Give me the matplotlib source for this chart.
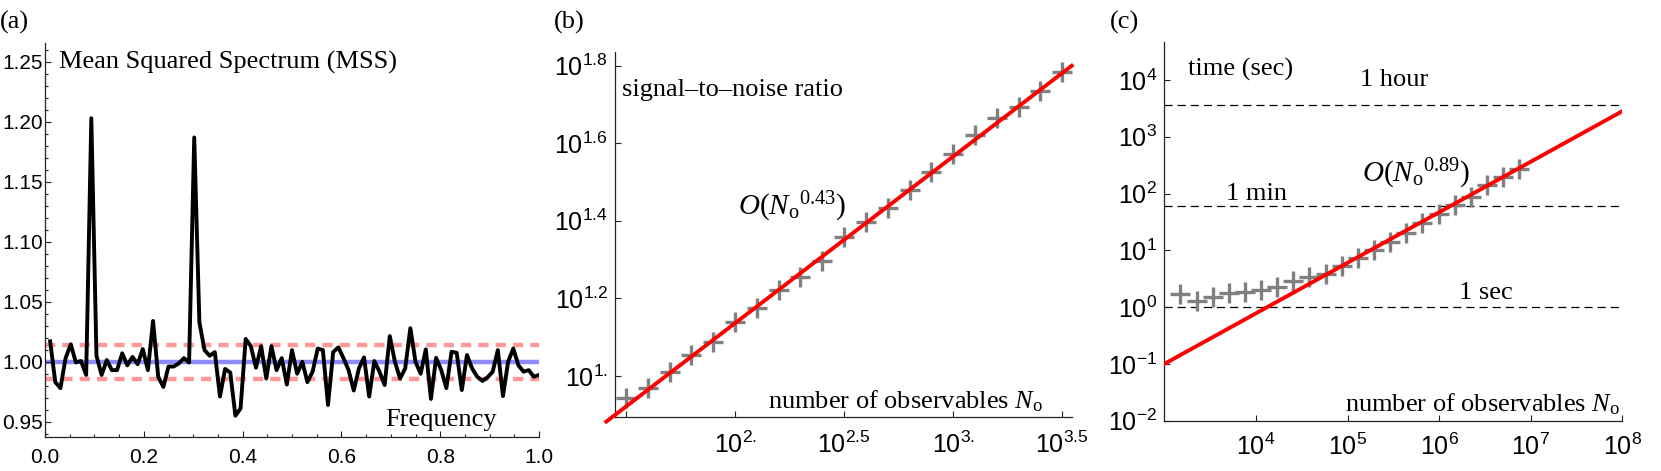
import numpy as np
import matplotlib
matplotlib.use("Agg")
import matplotlib.pyplot as plt
from matplotlib.ticker import (FixedLocator, FixedFormatter, MultipleLocator,
                               FormatStrFormatter, NullLocator)

plt.rcParams['font.family'] = ['Liberation Sans', 'DejaVu Sans']
plt.rcParams['mathtext.fontset'] = 'custom'
plt.rcParams['mathtext.rm'] = 'Liberation Serif'
plt.rcParams['mathtext.it'] = 'Liberation Serif:italic'
plt.rcParams['mathtext.bf'] = 'Liberation Serif:bold'

# ---------------- data ----------------
# (a) mean squared spectrum
mss_freq = np.linspace(1 / 96, 1.0, 96)
mss_values = [1.017, 0.983, 0.978, 1.003, 1.0145, 0.9995, 1.0006, 0.989, 1.203, 1.005,
              0.989, 1.0014, 0.993, 0.993, 1.007, 0.997, 1.004, 0.998, 1.0106, 0.993,
              1.034, 0.9875, 0.979, 0.996, 0.996, 0.9986, 1.003, 0.9994, 1.187, 1.033,
              1.0097, 1.005, 1.008, 0.971, 0.994, 0.991, 0.955, 0.961, 1.019, 1.013,
              0.995, 1.013, 0.986, 1.013, 0.993, 1.003, 0.981, 1.0097, 0.990, 1.000,
              0.983, 0.9917, 1.011, 1.0097, 0.964, 1.008, 1.012, 1.003, 0.993, 0.976,
              0.9944, 1.0036, 0.971, 1.0006, 0.9917, 0.9806, 1.0214, 1.0, 0.986, 0.9945,
              1.028, 1.0, 0.990, 1.0103, 0.969, 1.0033, 0.993, 0.978, 1.0083, 1.0075,
              0.9764, 1.0056, 0.9944, 0.9875, 0.984, 0.987, 0.9917, 1.0097, 0.9714, 1.0,
              1.011, 0.997, 0.9917, 0.993, 0.9875, 0.989]
mss_mean = 1.0
mss_band = [1.014, 0.986]

# (b) signal-to-noise ratio vs number of observables
snr_n = [31.6, 39.8, 50.1, 63.1, 79.4, 100.0, 125.9, 158.5, 199.5, 251.2, 316.2,
         398.1, 501.2, 631.0, 794.3, 1000.0, 1258.9, 1584.9, 1995.3, 2511.9, 3162.3]
snr_values = [8.76, 9.29, 10.26, 11.32, 12.25, 13.80, 14.93, 16.63, 18.03, 19.82, 22.75,
              24.95, 27.16, 30.13, 33.57, 37.41, 41.78, 46.13, 49.43, 54.33, 60.81]
snr_coef, snr_exp = 1.888, 0.43
snr_fit_range = [10 ** 1.41, 10 ** 3.543]
snr_yticks = [10 ** 1.0, 10 ** 1.2, 10 ** 1.4, 10 ** 1.6, 10 ** 1.8]
snr_yticklabels = ['1.', '1.2', '1.4', '1.6', '1.8']
snr_xticks = [10 ** 1.5, 10 ** 2.0, 10 ** 2.5, 10 ** 3.0, 10 ** 3.5]
snr_xticklabels = ['', '2.', '2.5', '3.', '3.5']

# (c) computation time vs number of observables
time_n = [1500, 2250, 3375, 5063, 7594, 11391, 17086, 25629, 38443, 57665, 86498,
          129746, 194620, 291929, 437894, 656841, 985261, 1477892, 2216838, 3325257,
          4987885, 7481828]
time_values = [1.675, 1.259, 1.514, 1.738, 1.841, 1.968, 2.291, 2.917, 3.334, 3.873, 5.248,
               7.244, 10.23, 14.13, 19.95, 30.2, 44.36, 62.23, 87.1, 140.3, 196.8, 276.1]
time_coef, time_exp = 2.138e-4, 0.89
time_fit_range = [1e3, 1e8]
time_refs = [3600, 60, 1]
time_ref_labels = ['1 hour', '1 min', '1 sec']
time_yexp = [-2, -1, 0, 1, 2, 3, 4]
time_xexp = [4, 5, 6, 7, 8]

# ---------------- figure ----------------
W, H = 1661, 471
fig = plt.figure(figsize=(W / 100, H / 100), dpi=100)


def frac(l, t, r, b):
    return [l / W, 1 - b / H, (r - l) / W, (b - t) / H]


axA = fig.add_axes(frac(45, 42.7, 539, 437.3))
axB = fig.add_axes(frac(615, 52, 1071.7, 416.7))
axC = fig.add_axes(frac(1164.3, 41.7, 1622.3, 420.7))

serif = 'Liberation Serif'
TXT = 19
TXT_O = 21
TICK_A = 15
TICK_LOG = 18

for ax in (axA, axB, axC):
    for s in ('top', 'right'):
        ax.spines[s].set_visible(False)
    for s in ('left', 'bottom'):
        ax.spines[s].set_linewidth(0.9)
        ax.spines[s].set_color('#222222')
    ax.tick_params(which='both', direction='in', width=0.8, color='#222222')
    ax.tick_params(which='major', length=4.5)
    ax.tick_params(which='minor', length=2.5)
    ax.set_facecolor('none')

# ---- (a) ----
axA.hlines(mss_band, 0, 1, colors=[(1.0, 0.6, 0.6)], lw=3.2,
           linestyles=[(0, (2.3, 1.6))], zorder=1)
axA.hlines(mss_mean, 0, 1, colors=[(0.55, 0.55, 1.0)], lw=3.2, zorder=1)
axA.plot(mss_freq, mss_values, color='black', lw=2.8, zorder=3)
axA.set_xlim(0, 1)
axA.set_ylim(0.937, 1.266)
axA.xaxis.set_major_locator(MultipleLocator(0.2))
axA.xaxis.set_minor_locator(MultipleLocator(0.05))
axA.xaxis.set_major_formatter(FormatStrFormatter('%.1f'))
axA.yaxis.set_major_locator(MultipleLocator(0.05))
axA.yaxis.set_minor_locator(MultipleLocator(0.01))
axA.yaxis.set_major_formatter(FormatStrFormatter('%.2f'))
axA.tick_params(labelsize=TICK_A)
axA.tick_params(axis='y', pad=1.5)
axA.tick_params(axis='x', pad=8)
axA.text(0.028, 1.2498, 'Mean Squared Spectrum (MSS)', fontfamily=serif,
         fontsize=TXT, ha='left', va='center')
axA.text(0.915, 0.9514, 'Frequency', fontfamily=serif, fontsize=TXT,
         ha='right', va='center')

# ---- (b) ----
axB.set_xscale('log')
axB.set_yscale('log')
axB.plot(snr_n, snr_values, '+', color='#808080', ms=15, mew=2.4, zorder=2)
fx = np.array(snr_fit_range)
axB.plot(fx, snr_coef * fx ** snr_exp, color='red', lw=2.8, zorder=3,
         clip_on=False)
axB.set_xlim(10 ** 1.45, 10 ** 3.543)
axB.set_ylim(10 ** 0.895, 10 ** 1.835)
axB.xaxis.set_major_locator(FixedLocator(snr_xticks))
axB.xaxis.set_major_formatter(FixedFormatter(
    [(r'$\mathregular{10^{%s}}$' % s) if s else '' for s in snr_xticklabels]))
axB.yaxis.set_major_locator(FixedLocator(snr_yticks))
axB.yaxis.set_major_formatter(FixedFormatter(
    [r'$\mathregular{10^{%s}}$' % s for s in snr_yticklabels]))
axB.xaxis.set_minor_locator(NullLocator())
axB.yaxis.set_minor_locator(NullLocator())
axB.tick_params(labelsize=TICK_LOG)
axB.tick_params(axis='x', pad=11)
axB.tick_params(axis='y', pad=5)
axB.text(10 ** 1.481, 10 ** 1.737, 'signal\u2013to\u2013noise ratio',
         fontfamily=serif, fontsize=TXT, ha='left', va='center')
axB.text(10 ** 2.014, 10 ** 1.4356, r'$\mathit{O}(N_{\mathrm{o}}{}^{0.43})$',
         fontfamily=serif, fontsize=TXT_O, ha='left', va='center')
axB.text(10 ** 3.411, 10 ** 0.934, r'number of observables $N_{\mathrm{o}}$',
         fontfamily=serif, fontsize=TXT, ha='right', va='center')

# ---- (c) ----
axC.set_xscale('log')
axC.set_yscale('log')
axC.hlines(time_refs, 1e3, 10 ** 7.96, colors='black', lw=0.9,
           linestyles=[(0, (6.5, 4.0))], zorder=1)
axC.plot(time_n, time_values, '+', color='#808080', ms=15, mew=2.4, zorder=2)
cx = np.array(time_fit_range)
axC.plot(cx, time_coef * cx ** time_exp, color='red', lw=2.8, zorder=3)
axC.set_xlim(1e3, 1e8)
axC.set_ylim(1e-2, 10 ** 4.674)
axC.xaxis.set_major_locator(FixedLocator([10.0 ** e for e in time_xexp]))
axC.xaxis.set_major_formatter(FixedFormatter(
    [r'$\mathregular{10^{%d}}$' % e for e in time_xexp]))
axC.yaxis.set_major_locator(FixedLocator([10.0 ** e for e in time_yexp]))
axC.yaxis.set_major_formatter(FixedFormatter(
    [r'$\mathregular{10^{%d}}$' % e for e in time_yexp]))
axC.xaxis.set_minor_locator(NullLocator())
axC.yaxis.set_minor_locator(NullLocator())
axC.tick_params(labelsize=TICK_LOG)
axC.tick_params(axis='x', pad=9)
axC.tick_params(axis='y', pad=5)
axC.text(10 ** 3.262, 10 ** 4.185, 'time (sec)', fontfamily=serif,
         fontsize=TXT, ha='left', va='center')
ref_pos = [(10 ** 5.505, 10 ** 3.991), (10 ** 4.008, 10 ** 1.996),
           (10 ** 6.506, 10 ** 0.246)]
for (px, py), lab in zip(ref_pos, time_ref_labels):
    axC.text(px, py, lab, fontfamily=serif, fontsize=TXT, ha='center', va='center')
axC.text(10 ** 5.153, 10 ** 2.349, r'$\mathit{O}(N_{\mathrm{o}}{}^{0.89})$',
         fontfamily=serif, fontsize=TXT_O, ha='left', va='center')
axC.text(10 ** 7.97, 10 ** -1.713, r'number of observables $N_{\mathrm{o}}$',
         fontfamily=serif, fontsize=TXT, ha='right', va='center')

# panel labels
for lab, x in (('(a)', 0), ('(b)', 554), ('(c)', 1110)):
    fig.text(x / W, 1 - 22 / H, lab, fontfamily=serif, fontsize=TXT,
             ha='left', va='center')

fig.savefig('out.png', dpi=100)
